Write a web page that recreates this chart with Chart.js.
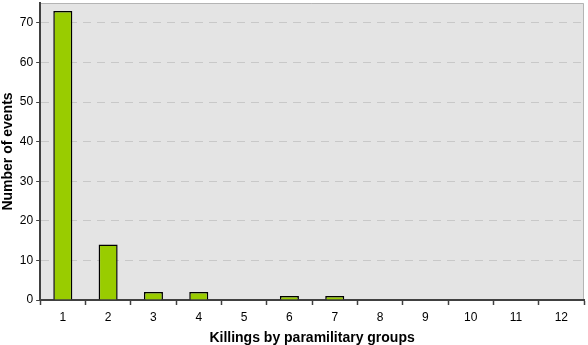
<!DOCTYPE html>
<html>
<head>
<meta charset="utf-8">
<script src="https://cdn.jsdelivr.net/npm/chart.js@4"></script>
<style>
html,body{margin:0;padding:0;background:#fff;}
#wrap{width:588px;height:345px;position:relative;}
</style>
</head>
<body>
<div id="wrap"><canvas id="c"></canvas></div>
<script>
// Killings by paramilitary groups - event counts
const categories=['1','2','3','4','5','6','7','8','9','10','11','12'];
const events=[73,14,2,2,0,1,1,0,0,0,0,0];
const yTicks=[0,10,20,30,40,50,60,70];

const plotBg={
  id:'plotBg',
  beforeDraw(chart){
    const {ctx,chartArea:a}=chart;
    ctx.save();
    ctx.fillStyle='#e4e4e4';
    ctx.fillRect(a.left,a.top,a.right-a.left,a.bottom-a.top);
    ctx.strokeStyle='#b4b4b4';
    ctx.lineWidth=1;
    ctx.beginPath();
    ctx.moveTo(a.left,a.top+0.5);ctx.lineTo(a.right-0.5,a.top+0.5);ctx.lineTo(a.right-0.5,a.bottom);
    ctx.stroke();
    ctx.restore();
  }
};

Chart.defaults.font.family="'Liberation Sans', Arial, sans-serif";
Chart.defaults.color='#000';

new Chart(document.getElementById('c'),{
  type:'bar',
  data:{labels:categories,datasets:[{data:events,backgroundColor:'#99cc00',borderColor:'#000',borderWidth:1.5,
    categoryPercentage:1,barPercentage:0.42,borderSkipped:'bottom'}]},
  options:{responsive:true,maintainAspectRatio:false,animation:false,
    layout:{padding:{top:3,right:4,left:0,bottom:0}},
    plugins:{legend:{display:false},tooltip:{enabled:false}},
    scales:{
      x:{offset:true,
        grid:{offset:true,drawOnChartArea:false,drawTicks:true,tickLength:5,color:'#404040',tickWidth:1.5},
        border:{color:'#404040',width:2},
        ticks:{font:{size:12,lineHeight:1},padding:7,color:'#000'},
        title:{display:true,text:'Killings by paramilitary groups',font:{size:14,weight:'bold',lineHeight:1},padding:{top:0,bottom:0}}},
      y:{min:0,max:75,
        afterBuildTicks:s=>{s.ticks=yTicks.map(v=>({value:v}));},
        afterFit:s=>{s.paddingTop=0;s.paddingBottom=0;},
        grid:{color:'#c8c8c8',tickLength:4,tickColor:'#404040'},
        border:{color:'#404040',width:2,dash:[8,6]},
        ticks:{font:{size:12},padding:3,color:'#000'},
        title:{display:true,text:'Number of events',font:{size:14,weight:'bold'},padding:{top:0,bottom:0}}}
    }},
  plugins:[plotBg]
});
</script>
</body>
</html>
